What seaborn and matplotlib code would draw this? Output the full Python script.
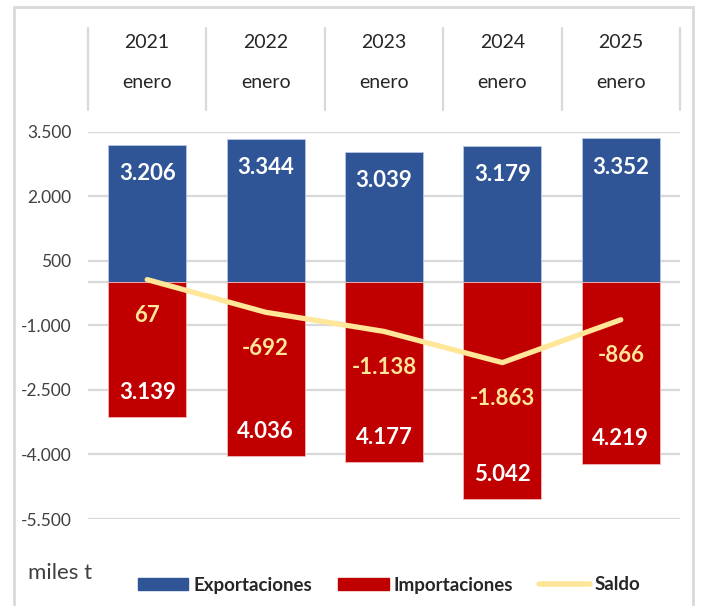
import numpy as np
import pandas as pd
import matplotlib
matplotlib.use("Agg")
import matplotlib.pyplot as plt
import matplotlib.transforms as mtransforms
from matplotlib.patches import Patch, Rectangle
from matplotlib.lines import Line2D
import seaborn as sns

# Datos (miles t, enero de cada año)
years = ["2021", "2022", "2023", "2024", "2025"]
month = ["enero", "enero", "enero", "enero", "enero"]
exportaciones = [3206, 3344, 3039, 3179, 3352]
importaciones = [3139, 4036, 4177, 5042, 4219]
saldo = [67, -692, -1138, -1863, -866]
yticks = [3500, 2000, 500, -1000, -2500, -4000, -5500]

C_EXP = "#2F5597"
C_IMP = "#C00000"
C_SAL = "#FFE699"
C_GRID = "#D9D9D9"
C_TXT = "#404040"

sns.set_style("white")
plt.rcParams["font.family"] = ["Lato", "DejaVu Sans"]

W, H = 702, 606
fig = plt.figure(figsize=(W / 100, H / 100), dpi=100)
ax = fig.add_axes([88 / W, 1 - 519 / H, (680 - 88) / W, (519 - 132) / H])

df = pd.DataFrame({"year": years, "exp": exportaciones,
                   "imp": [-v for v in importaciones]})

# lineas de la cuadricula
for t in yticks + [0]:
    ax.axhline(t, color=C_GRID, lw=1.6, zorder=0)

sns.barplot(data=df, x="year", y="exp", color=C_EXP, width=0.66,
            saturation=1, edgecolor="#B4C7E7", linewidth=0.6, ax=ax, zorder=2)
sns.barplot(data=df, x="year", y="imp", color=C_IMP, width=0.66,
            saturation=1, edgecolor="#F4B6B6", linewidth=0.6, ax=ax, zorder=2)
sns.lineplot(x=np.arange(len(years)), y=saldo, color=C_SAL, lw=3.8,
             solid_capstyle="round", ax=ax, zorder=3)

fmt = lambda v: f"{v:,}".replace(",", ".")

for i in range(len(years)):
    ax.annotate(fmt(exportaciones[i]), (i, exportaciones[i]), xytext=(0, -21),
                textcoords="offset points", ha="center", va="center",
                color="white", fontsize=16, fontweight="bold", zorder=4)
    ax.annotate(fmt(importaciones[i]), (i, -importaciones[i]), xytext=(0, 18),
                textcoords="offset points", ha="center", va="center",
                color="white", fontsize=16, fontweight="bold", zorder=4)
    ax.annotate(fmt(saldo[i]), (i, saldo[i]), xytext=(0, -26),
                textcoords="offset points", ha="center", va="center",
                color=C_SAL, fontsize=16, fontweight="bold", zorder=4)

ax.set_xlim(-0.5, len(years) - 0.5)
ax.set_ylim(-5500, 3500)
ax.set_yticks(yticks)
ax.set_yticklabels([fmt(t) for t in yticks], fontsize=12.5, color=C_TXT)
ax.tick_params(axis="y", length=0, pad=12)
ax.set_xticks([])
ax.set_xlabel("")
ax.set_ylabel("")
sns.despine(ax=ax, left=True, bottom=True)

# cabecera con años / mes
tr = mtransforms.blended_transform_factory(ax.transData, fig.transFigure)
for i in range(len(years) + 1):
    fig.add_artist(Line2D([i - 0.5, i - 0.5], [1 - 28 / H, 1 - 110 / H],
                          transform=tr, color=C_GRID, lw=1.6))
for i, (y, m) in enumerate(zip(years, month)):
    fig.text(i, 1 - 43 / H, y, transform=tr, ha="center", va="center",
             fontsize=14, color="#262626")
    fig.text(i, 1 - 83 / H, m, transform=tr, ha="center", va="center",
             fontsize=14, color="#262626")

# marco exterior
fig.add_artist(Rectangle((14 / W, -0.05), (693 - 14) / W, 1.05 - 7 / H,
                         transform=fig.transFigure, fill=False,
                         edgecolor=C_GRID, lw=2))

fig.text(28 / W, 1 - 573 / H, "miles t", ha="left", va="center",
         fontsize=16, color=C_TXT)

handles = [Patch(color=C_EXP, label="Exportaciones"),
           Patch(color=C_IMP, label="Importaciones"),
           Line2D([0], [0], color=C_SAL, lw=4, label="Saldo")]
leg = fig.legend(handles=handles, loc="center", ncol=3, frameon=False,
                 bbox_to_anchor=(389 / W, 1 - 585 / H),
                 prop={"weight": "bold", "size": 13.5},
                 handlelength=2.7, handleheight=0.55, handletextpad=0.25,
                 columnspacing=1.4)

fig.savefig("out.png", dpi=100)
